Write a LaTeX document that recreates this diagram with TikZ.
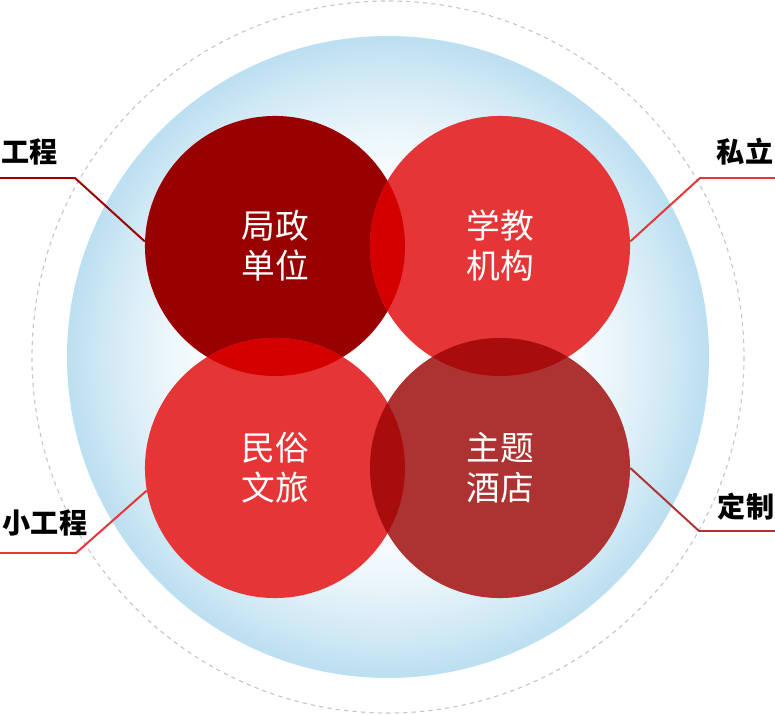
\documentclass[tikz,border=0pt]{standalone}
\usepackage{fontspec}
\newfontfamily\cjk{Noto Sans CJK SC}
\definecolor{DR}{RGB}{153,0,0}
\definecolor{R}{RGB}{229,53,54}
\definecolor{BR}{RGB}{173,51,51}
\definecolor{OR}{RGB}{212,0,0}
\definecolor{OB}{RGB}{168,12,12}
\definecolor{SB}{RGB}{188,223,241}

\begin{document}
\begin{tikzpicture}[x=0.025cm,y=-0.025cm,
  ball/.style={circle,inner sep=0pt,minimum size=6.5cm,text=white,align=center,
    font=\cjk\fontsize{24pt}{28.5pt}\selectfont},
  tag/.style={font=\cjk\bfseries\fontsize{20pt}{24pt}\selectfont},
  lead/.style={line width=1.4pt}]
  \useasboundingbox (0,0) rectangle (775,715);

  \draw[gray!45, line width=0.8pt, dash pattern=on 3pt off 3pt] (388,357) circle (356);
  % halo azul, de fuera hacia dentro
  \foreach \i in {0,...,45}{
    \pgfmathsetmacro\rr{321-4*\i}
    \pgfmathsetmacro\pp{max(0,100*((\rr-140)/181)^1.6)}
    \fill[SB!\pp!white] (388,357) circle (\rr);
  }

  \node[ball,fill=DR] (jz) at (275,246) {局政\\单位};
  \node[ball,fill=R] (xj) at (500,246) {学教\\机构};
  \node[ball,fill=R] (mw) at (275,468) {民俗\\文旅};
  \node[ball,fill=BR] (zt) at (500,468) {主题\\酒店};

\begin{scope}
  \clip (jz.center) circle (130);
  \fill[OR] (xj.center) circle (130);
  \fill[OR] (mw.center) circle (130); %lentes rojas
\end{scope}
\begin{scope}
  \clip (zt.center) circle (130);
  \fill[OB] (xj.center) circle (130);
  \fill[OB] (mw.center) circle (130);
\end{scope}

  \coordinate (k1) at (75,178);  \coordinate (e1) at (0,178);
  \coordinate (k2) at (700,178); \coordinate (e2) at (775,178);
  \coordinate (k3) at (76,553);  \coordinate (e3) at (0,553);
  \coordinate (k4) at (699,531); \coordinate (e4) at (775,531);

  \draw[lead,DR] (jz.178) -- (k1) -- (e1);
  \draw[lead,R] (xj.2) -- (k2) -- (e2);
  \draw[lead,R] (mw.190) -- (k3) -- (e3);
  \draw[lead,BR] (zt.east) -- (k4) -- (e4);

  \node[tag] (gc) at (30,152) {工程};
  \node[tag] (sl) at (745,152) {私立};
  \node[tag] (xg) at (45,523) {小工程};
  \node[tag] (dz) at (746,507) {定制};
\end{tikzpicture}
\end{document}
